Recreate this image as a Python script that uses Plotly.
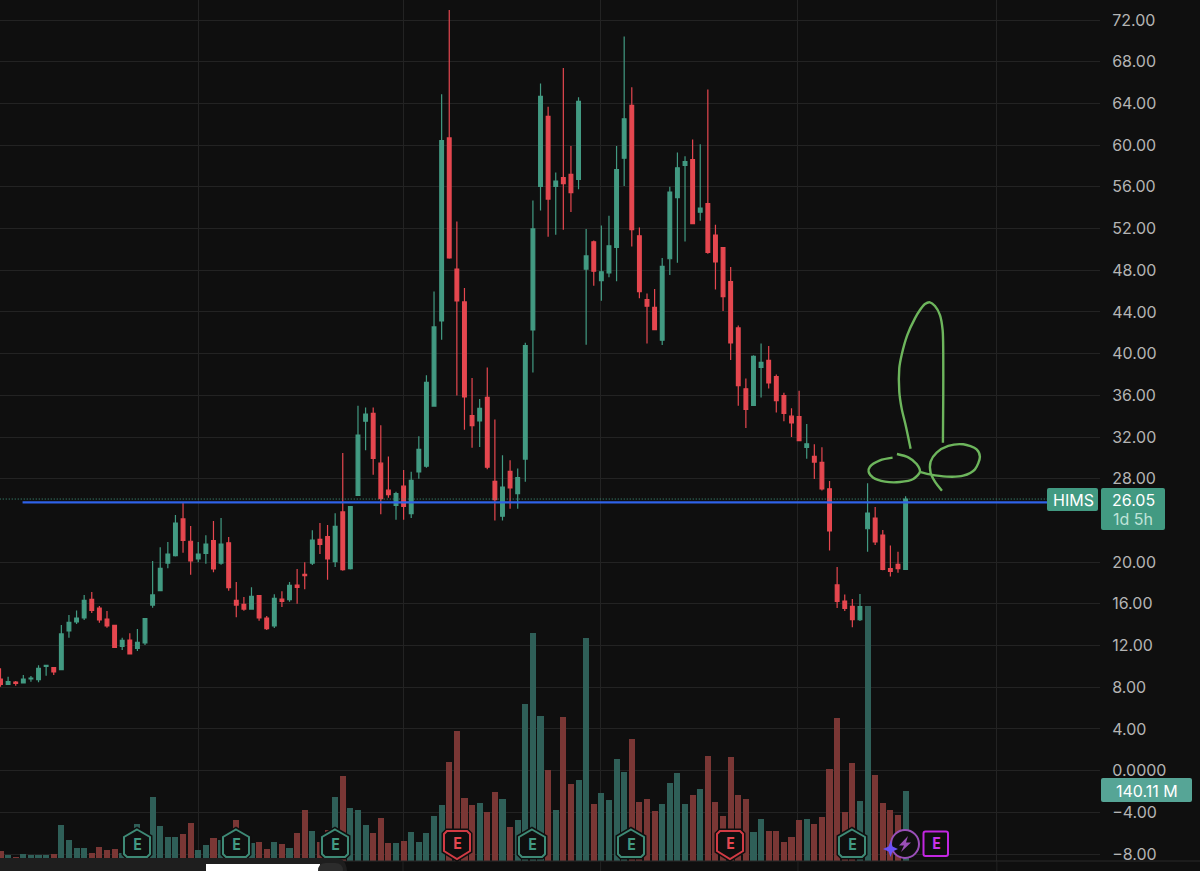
import plotly.graph_objects as go

opens = [8.79,8.28,8.50,8.41,8.79,8.72,10.00,9.88,9.68,13.39,14.26,14.64,16.43,15.60,14.54,13.93,11.92,12.53,11.73,12.24,
15.88,17.26,19.91,20.62,24.14,22.00,20.30,20.84,22.06,19.91,21.86,16.33,15.95,15.50,16.78,14.64,13.87,16.46,16.40,17.80,
18.83,19.91,22.18,22.44,20.04,24.81,19.37,26.41,33.51,34.26,29.49,26.90,25.44,27.28,24.66,28.65,29.20,34.97,43.14,60.69,
48.11,44.96,34.06,33.54,35.81,27.74,24.40,28.71,26.57,29.88,42.27,56.05,62.76,56.05,56.89,57.19,56.70,48.11,50.73,47.00,
47.75,50.18,58.74,63.81,51.30,45.19,44.43,41.28,49.10,54.97,58.05,58.61,53.57,54.40,51.37,50.16,46.90,42.46,36.62,35.03,
38.67,39.35,37.80,35.98,34.00,33.97,31.01,30.14,29.57,27.03,17.81,16.26,15.76,14.47,23.20,24.22,22.59,19.37,19.78,19.29]
highs = [9.81,9.01,8.60,9.17,9.08,10.10,10.10,9.88,13.97,14.93,15.37,16.85,17.13,15.79,15.31,14.00,12.75,13.17,13.58,14.64,
20.11,21.42,21.93,24.52,25.70,23.46,21.93,22.57,23.94,24.23,22.41,18.09,16.65,17.58,16.78,14.83,16.91,17.20,18.09,19.34,
19.98,23.05,23.75,23.56,24.68,30.47,25.38,35.00,34.84,34.84,33.12,30.14,26.74,28.84,28.68,32.08,37.92,45.96,64.87,72.95,
52.68,46.29,37.66,35.65,38.67,33.67,30.24,29.78,28.97,41.04,54.69,65.91,63.67,57.38,67.40,59.91,64.58,51.96,50.86,52.29,
53.23,59.91,70.42,65.55,52.09,45.76,46.21,49.17,56.00,59.30,58.92,60.55,60.09,65.33,52.36,50.16,48.30,42.69,37.61,39.84,
40.98,40.72,37.99,36.24,34.76,36.43,33.25,31.31,31.01,27.78,19.52,16.90,16.45,16.94,27.56,25.28,23.08,21.60,21.00,26.31]
lows = [8.05,8.28,8.15,8.41,8.53,8.47,9.11,9.17,9.62,12.75,14.06,14.45,15.12,14.19,13.71,11.76,11.57,11.19,11.47,12.05,
15.63,17.26,19.40,20.55,20.90,18.80,19.98,19.85,19.02,19.75,17.26,14.70,15.34,15.50,14.38,13.49,13.68,15.69,16.21,16.01,
17.39,19.72,20.78,18.32,19.53,19.18,19.30,26.35,30.72,28.39,24.59,26.18,24.07,24.07,24.24,27.99,29.04,34.97,41.33,49.11,
35.98,32.70,30.98,31.05,28.91,23.98,23.98,25.11,25.11,27.71,38.18,53.72,51.22,51.41,51.87,53.59,55.76,40.84,46.52,45.06,
47.33,46.94,56.08,50.27,45.30,40.98,42.23,40.83,47.54,48.72,50.76,52.47,52.74,49.59,46.14,44.09,39.39,34.99,32.87,35.03,
35.79,36.66,34.35,33.51,32.00,31.65,29.91,27.97,26.88,21.11,15.61,15.31,13.75,14.36,21.00,21.64,19.22,18.61,18.99,19.29]
closes = [8.28,8.53,8.37,8.79,8.88,9.81,10.10,9.46,13.11,14.22,14.64,16.33,15.37,14.45,13.87,11.83,12.50,11.19,12.31,14.57,
16.85,19.40,20.78,23.75,22.09,20.11,20.78,21.74,19.34,21.74,17.55,15.88,15.50,16.72,14.64,13.62,16.53,16.24,17.77,17.58,
18.70,22.12,21.70,20.30,23.43,19.27,25.32,32.18,34.19,29.95,26.09,26.48,26.57,25.34,27.84,30.82,37.24,42.56,60.43,49.18,
45.06,35.85,33.09,34.74,29.10,25.99,27.19,27.12,28.10,40.78,51.96,64.68,54.82,56.54,56.31,55.43,64.19,49.37,47.91,47.85,
50.34,57.64,62.52,51.90,45.95,44.55,42.31,48.38,55.50,57.82,58.42,52.47,53.95,49.70,48.79,45.46,41.02,36.92,34.65,39.73,
39.16,37.19,35.48,34.27,33.36,31.65,31.35,29.60,27.03,23.00,16.22,15.57,14.47,15.73,24.71,21.95,19.29,19.10,19.37,26.04]
volumes_m = [20,12,9,15,12,13,12,15,73,42,26,27,17,28,22,25,16,40,75,50,
129,70,49,49,54,76,23,32,46,42,55,83,45,37,38,24,38,34,26,57,
103,60,38,62,128,170,107,103,72,56,87,36,36,41,58,38,56,91,112,199,
260,127,112,117,98,139,124,68,82,315,456,290,183,103,288,154,162,447,115,137,
123,204,179,244,119,124,101,115,156,177,115,133,145,211,119,91,209,133,124,59,
84,60,60,38,49,82,84,74,88,184,286,99,197,121,510,172,117,103,93,140.11]

price_ticks = [72,68,64,60,56,52,48,44,40,36,32,28,20,16,12,8,4,0,-4,-8]
price_labels = ["72.00","68.00","64.00","60.00","56.00","52.00","48.00","44.00","40.00","36.00","32.00","28.00",
                "20.00","16.00","12.00","8.00","4.00","0.0000","−4.00","−8.00"]
grid_x = [25.97,52.92,78.9,104.85,131.0]
last_price = 26.05
level_price = 25.73
level_start = 2.9

shaft_x = [119.66,119.05,118.48,118.17,118.17,118.48,119.22,120.23,120.89,121.54,122.20,122.86,123.52,123.87,123.95,123.95,123.91]
shaft_y = [30.88,32.99,34.75,36.35,38.59,39.87,41.78,43.38,44.18,44.76,44.92,44.57,43.70,42.26,40.03,35.87,31.46]
left_x = [117.29,115.63,114.31,114.14,114.75,116.29,118.26,120.01,120.89,120.45,119.35,117.86]
left_y = [30.02,29.76,29.15,28.67,28.10,27.72,27.68,27.97,28.67,29.41,30.05,30.37]
right_x = [120.97,122.20,124.39,126.58,128.12,128.77,128.34,126.58,124.61,123.08,122.29,122.29,122.86,123.78]
right_y = [28.64,28.42,28.20,28.29,28.90,30.11,30.82,31.30,31.14,30.50,29.63,28.58,27.72,26.85]

GREEN = "#429A82"
RED = "#E5474F"
VGREEN = "#2F5F58"
VRED = "#7A3735"
BG = "#0F0F0F"
GRID = "#232323"
W_PLOT, H_PLOT = 1100, 861
idx = list(range(len(opens)))
vol_colors = [VGREEN if c >= o else VRED for o, c in zip(opens, closes)]

fig = go.Figure()
fig.add_trace(go.Bar(x=idx, y=volumes_m, marker=dict(color=vol_colors, line_width=0), width=0.8,
                     yaxis="y", xaxis="x", showlegend=False))
fig.add_trace(go.Candlestick(x=idx, open=opens, high=highs, low=lows, close=closes, yaxis="y2", xaxis="x",
                             increasing=dict(line=dict(color=GREEN, width=1.2), fillcolor=GREEN),
                             decreasing=dict(line=dict(color=RED, width=1.2), fillcolor=RED),
                             whiskerwidth=0, showlegend=False))
for sx, sy in ((shaft_x, shaft_y), (left_x, left_y), (right_x, right_y)):
    fig.add_trace(go.Scatter(x=sx, y=sy, yaxis="y2", xaxis="x", mode="lines", showlegend=False,
                             line=dict(color="#6DB55C", width=2.4, shape="spline", smoothing=0.8)))


def px(x):
    return x / W_PLOT


def py(y):
    return (H_PLOT - y) / H_PLOT


def rrect(x0, y0, x1, y1, r):
    return (f"M {px(x0+r)} {py(y0)} L {px(x1-r)} {py(y0)} Q {px(x1)} {py(y0)} {px(x1)} {py(y0+r)} "
            f"L {px(x1)} {py(y1-r)} Q {px(x1)} {py(y1)} {px(x1-r)} {py(y1)} L {px(x0+r)} {py(y1)} "
            f"Q {px(x0)} {py(y1)} {px(x0)} {py(y1-r)} L {px(x0)} {py(y0+r)} Q {px(x0)} {py(y0)} {px(x0+r)} {py(y0)} Z")


def poly(points):
    return "M " + " L ".join(f"{px(a)} {py(b)}" for a, b in points) + " Z"


shapes = []
annos = []


def add_path(path, fill="rgba(0,0,0,0)", line=None, width=0):
    shapes.append(dict(type="path", xref="paper", yref="paper", path=path, fillcolor=fill,
                       line=dict(color=line or "rgba(0,0,0,0)", width=width)))


def add_text(x, y, text, color, size, family="Inter", xanchor="center"):
    annos.append(dict(xref="paper", yref="paper", x=px(x), y=py(y), text=text, showarrow=False,
                      xanchor=xanchor, yanchor="middle", font=dict(color=color, size=size, family=family)))


# bottom border of the pane and the grid continuing below it
shapes.append(dict(type="line", xref="paper", yref="paper", x0=0, x1=px(1200), y0=py(861), y1=py(861),
                   line=dict(color="#2A2A2A", width=1)))
for gx in grid_x:
    shapes.append(dict(type="line", xref="x", yref="paper", x0=gx, x1=gx, y0=py(861), y1=py(871),
                       line=dict(color=GRID, width=1)))

# reference lines
shapes.append(dict(type="line", xref="x", yref="y2", x0=-0.1, x1=137.6, y0=last_price, y1=last_price,
                   line=dict(color=GREEN, width=1, dash="1px,2px")))
shapes.append(dict(type="line", xref="x", yref="y2", x0=level_start, x1=137.6, y0=level_price, y1=level_price,
                   line=dict(color="#2F62E8", width=2.2)))

# earnings badges
for cx in (137, 236, 335, 532, 631, 852):
    pts = [(cx, 829.5), (cx + 13, 837), (cx + 13, 854), (cx + 10, 857), (cx - 10, 857), (cx - 13, 854), (cx - 13, 837)]
    add_path(poly(pts), fill=BG, line=BG, width=5)
    add_path(poly(pts), fill=BG, line="#3E8A76", width=2)
    add_text(cx, 845, "<b>E</b>", "#429A82", 15, "DejaVu Sans Mono")
for cx in (457, 730):
    pts = [(cx - 10, 831), (cx + 10, 831), (cx + 13, 834), (cx + 13, 851), (cx, 859), (cx - 13, 851), (cx - 13, 834)]
    add_path(poly(pts), fill=BG, line=BG, width=5)
    add_path(poly(pts), fill=BG, line="#D23B44", width=2)
    add_text(cx, 844, "<b>E</b>", "#E5474F", 15, "DejaVu Sans Mono")
add_path(rrect(923.5, 831.5, 948, 856, 2), fill=BG, line="#C226E0", width=2)
add_text(936, 844, "<b>E</b>", "#C834E8", 15, "DejaVu Sans Mono")
shapes.append(dict(type="circle", xref="paper", yref="paper", x0=px(891), x1=px(919), y0=py(858), y1=py(830),
                   fillcolor=BG, line=dict(color="#9A4FB8", width=2)))
add_path(poly([(908, 836), (899, 845.5), (904, 845.5), (901, 852), (911, 842.5), (906, 842.5)]), fill="#9A4FB8")
add_path(poly([(890.5, 841), (892.5, 846.5), (898, 849), (892.5, 851.5), (890.5, 857), (888.5, 851.5), (883, 849), (888.5, 846.5)]),
         fill="#6B52F5")

# price tags
add_path(rrect(1047, 488, 1098, 511, 2), fill=GREEN)
add_path(rrect(1101, 488, 1165, 530, 2), fill=GREEN)
add_path(rrect(1101, 778, 1192, 802, 2), fill="#56A596")
add_text(1073.5, 499.5, "HIMS", "#FFFFFF", 16)
add_text(1133, 499.5, "26.05", "#FFFFFF", 16)
add_text(1133, 519, "1d 5h", "#BFE3D8", 16)
add_text(1146.5, 790.5, "140.11 M", "#FFFFFF", 16)

# bottom toolbar remnants
add_path("M " + f"{px(0)} {py(858)} L {px(336)} {py(858)} Q {px(346)} {py(858)} {px(347)} {py(871)} L {px(0)} {py(871)} Z", fill="#1E1E1E")
add_path(poly([(206, 864), (320, 864), (320, 871), (206, 871)]), fill="#FFFFFF")
add_path(rrect(318, 863, 343, 880, 8), fill="#2C2C2C")

fig.update_layout(
    width=1200, height=871, paper_bgcolor=BG, plot_bgcolor=BG,
    margin=dict(l=0, r=100, t=0, b=10, pad=0), boxgap=0.3, barmode="overlay", bargap=0,
    showlegend=False, shapes=shapes, annotations=annos, hovermode=False,
    xaxis=dict(range=[-0.066, 144.56], showticklabels=False, ticks="", tickmode="array", tickvals=grid_x,
               showgrid=True, gridcolor=GRID, gridwidth=1, zeroline=False, rangeslider=dict(visible=False),
               showline=False),
    yaxis=dict(range=[0, 1722], visible=False, fixedrange=True),
    yaxis2=dict(overlaying="y", side="right", range=[-8.67, 73.92], tickmode="array", tickvals=price_ticks,
                ticktext=price_labels, ticks="outside", ticklen=8, tickcolor="rgba(0,0,0,0)",
                tickfont=dict(color="#B4B4B4", size=16, family="Inter"),
                showgrid=True, gridcolor=GRID, gridwidth=1, zeroline=False, showline=False, automargin=False),
)

fig.write_html("out.html", config={"displayModeBar": False},
               post_script="document.body.style.margin='0';document.body.style.overflow='hidden';")
